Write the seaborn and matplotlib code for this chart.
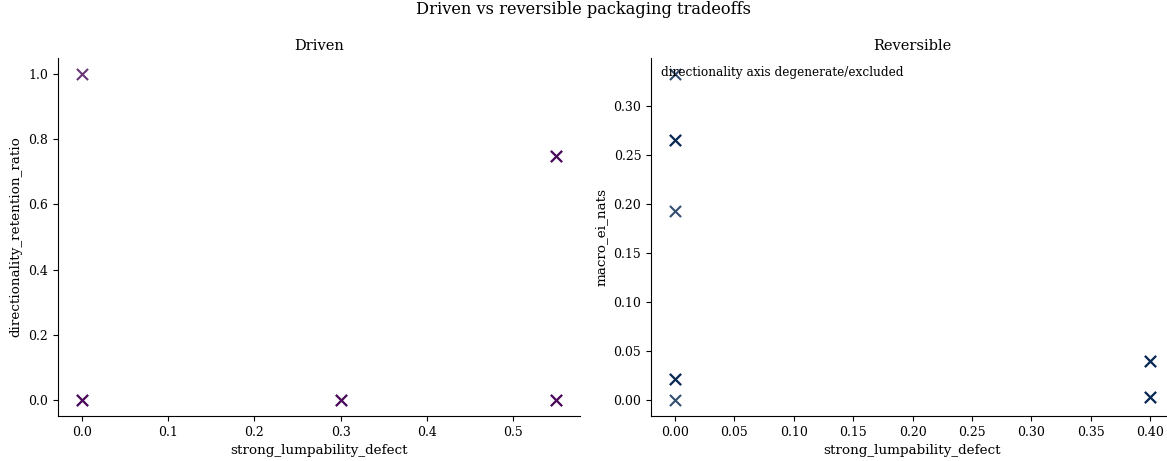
import numpy as np
import pandas as pd
import matplotlib
matplotlib.use("Agg")
import matplotlib.pyplot as plt
import seaborn as sns

# Driven runs: lumpability defect vs directionality retention
driven_defect = [0.0, 0.0, 0.0, 0.3, 0.3, 0.55, 0.55, 0.55, 0.55]
driven_retention = [1.0, 0.0, 0.0, 0.0, 0.0, 0.75, 0.75, 0.0, 0.0]

# Reversible runs: lumpability defect vs macro effective information
rev_defect = [0.0, 0.0, 0.0, 0.0, 0.0, 0.0, 0.0, 0.4, 0.4, 0.4, 0.4]
rev_ei = [0.332, 0.265, 0.265, 0.193, 0.021, 0.021, 0.0, 0.040, 0.040, 0.003, 0.003]

driven_color = "#440154"
rev_color = "#00224e"

sns.set_theme(style="ticks", rc={
    "axes.edgecolor": "black", "axes.linewidth": 0.8,
    "xtick.color": "black", "ytick.color": "black",
    "xtick.major.width": 0.8, "ytick.major.width": 0.8,
    "xtick.major.size": 3.5, "ytick.major.size": 3.5,
    "xtick.major.pad": 3.5, "ytick.major.pad": 3.5,
    "text.color": "black", "axes.labelcolor": "black",
    "xtick.labelsize": 9, "ytick.labelsize": 9,
    "axes.labelsize": 9.7, "axes.titlesize": 10.5,
    "axes.labelpad": 4.0, "axes.titlepad": 6.0,
})
plt.rcParams["font.family"] = ["DejaVu Serif"]

fig = plt.figure(figsize=(11.67, 4.61), dpi=100)
ax1 = fig.add_axes([58 / 1167, 1 - 416 / 461, 522 / 1167, 358 / 461])
ax2 = fig.add_axes([651 / 1167, 1 - 416 / 461, 523 / 1167, 358 / 461])

df_d = pd.DataFrame({"strong_lumpability_defect": driven_defect,
                     "directionality_retention_ratio": driven_retention})
df_r = pd.DataFrame({"strong_lumpability_defect": rev_defect,
                     "macro_ei_nats": rev_ei})

sns.scatterplot(data=df_d, x="strong_lumpability_defect",
                y="directionality_retention_ratio", ax=ax1, marker="x",
                color=driven_color, s=64, linewidth=1.5, alpha=0.8)
sns.scatterplot(data=df_r, x="strong_lumpability_defect", y="macro_ei_nats",
                ax=ax2, marker="x", color=rev_color, s=64, linewidth=1.5,
                alpha=0.8)

ax1.set_title("Driven")
ax2.set_title("Reversible")
ax2.text(0.02, 0.978, "directionality axis degenerate/excluded",
         transform=ax2.transAxes, ha="left", va="top", fontsize=8.7)

for ax in (ax1, ax2):
    sns.despine(ax=ax)

fig.suptitle("Driven vs reversible packaging tradeoffs", fontsize=11.7, y=0.997)
fig.savefig("out.png", dpi=100)
